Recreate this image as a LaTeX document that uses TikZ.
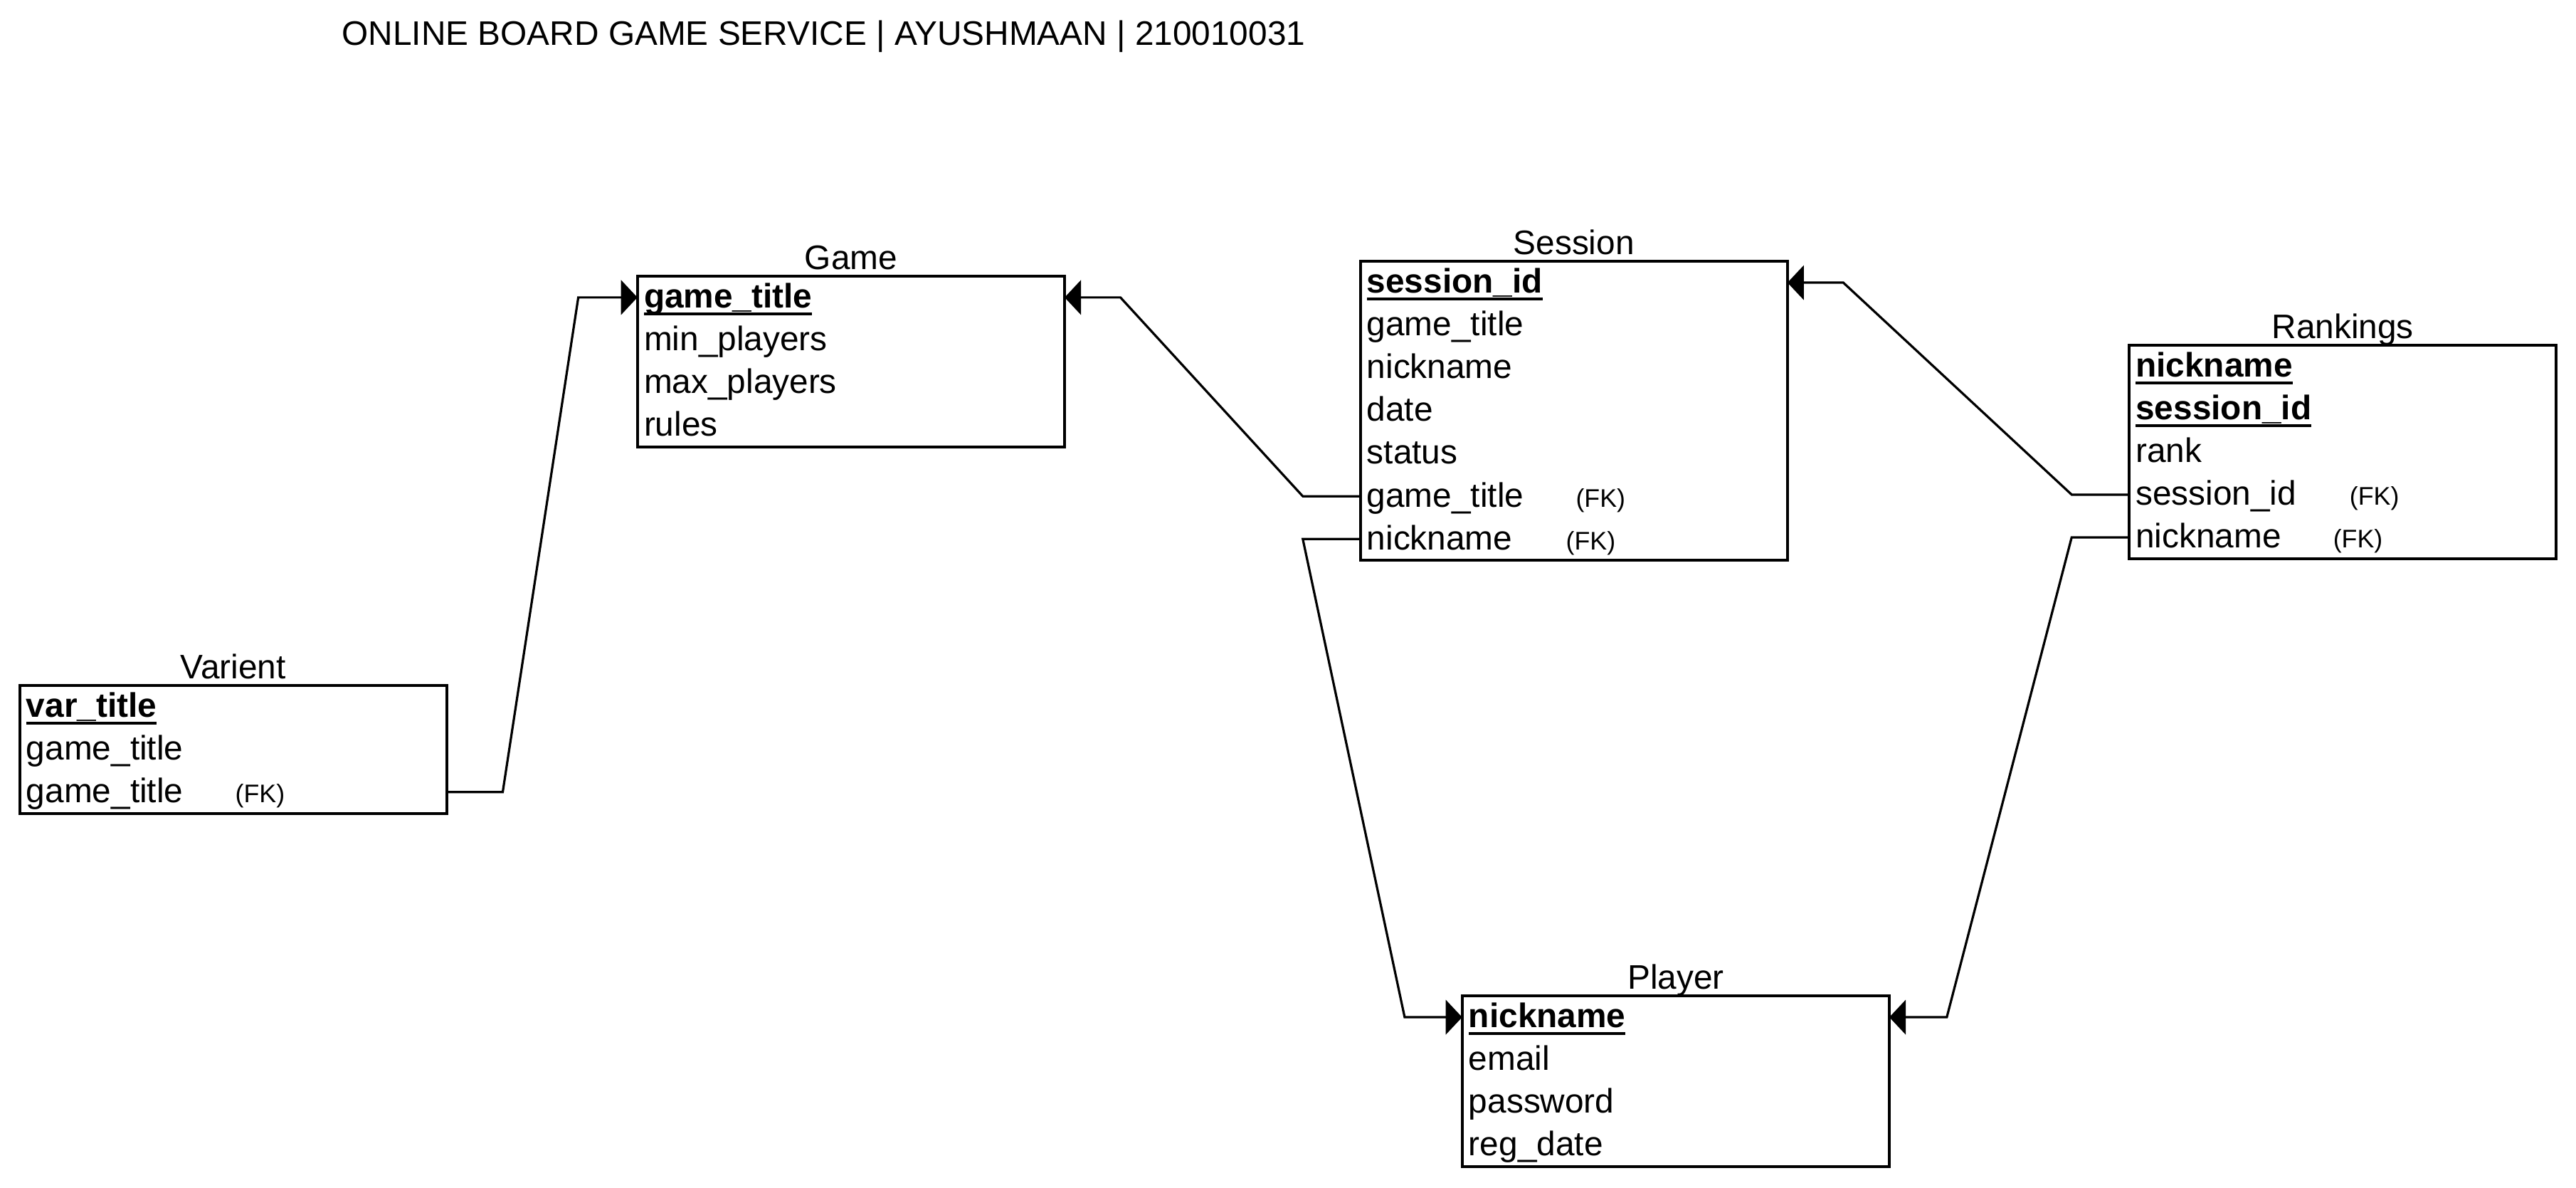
\documentclass[tikz,border=0pt]{standalone}
\usepackage{fontspec}
\setmainfont{Liberation Sans}
\usetikzlibrary{positioning,arrows.meta}

\newcommand{\fieldfont}{\fontsize{20.7pt}{24pt}\selectfont}
\newcommand{\fkfont}{\fontsize{15.5pt}{18pt}\selectfont}
\newcommand{\pkey}[1]{\setbox0\hbox{#1}\rlap{\rule[-4.4pt]{\wd0}{1.6pt}}\box0}

\tikzset{
	attr/.style={text width=252pt, inner xsep=4pt, inner ysep=0pt, outer sep=0pt,
		minimum height=26pt, text height=15pt, text depth=2.2pt, align=left, font=\fieldfont},
	pk/.style={attr, font=\fieldfont\bfseries},
	tabname/.style={anchor=base, inner sep=0pt, font=\fieldfont},
	fk/.style={anchor=base west, inner sep=0pt, font=\fkfont},
	tabbox/.style={line width=1.8pt},
	link/.style={line width=1.4pt, -{Triangle[length=10pt,width=21pt]}},
}

\begin{document}
\begin{tikzpicture}[x=1pt,y=1pt]
	\useasboundingbox (0,0) rectangle (1568,-722.5);

	\node[anchor=base west, inner sep=0pt, font=\fieldfont] (title) at (208,-27.4) {ONLINE BOARD GAME SERVICE | AYUSHMAAN | 210010031};

	% Game
	\node[pk, anchor=north west] (gkey) at (388,-168) {\pkey{game\_title}};
	\node[attr, below=0pt of gkey] (gmin) {min\_players};
	\node[attr, below=0pt of gmin] (gmax) {max\_players};
	\node[attr, below=0pt of gmax] (grules) {rules};
	\draw[tabbox] (gkey.north west) rectangle (grules.south east);
	\node[tabname] (gname) at ([yshift=4.2pt]gkey.north) {Game};

	% Session
	\node[pk, anchor=north west] (skey) at (828,-159) {\pkey{session\_id}};
	\node[attr, below=0pt of skey] (sgame) {game\_title};
	\node[attr, below=0pt of sgame] (snick) {nickname};
	\node[attr, below=0pt of snick] (sdate) {date};
	\node[attr, below=0pt of sdate] (sstat) {status};
	\node[attr, below=0pt of sstat] (sgtfk) {game\_title};
	\node[attr, below=0pt of sgtfk] (snkfk) {nickname};
	\draw[tabbox] (skey.north west) rectangle (snkfk.south east);
	\node[tabname] (sname) at ([yshift=4.2pt]skey.north) {Session};
	\node[fk] (sfk1) at ([xshift=131pt]sgtfk.base west) {(FK)};
	\node[fk] (sfk2) at ([xshift=125pt]snkfk.base west) {(FK)};

	% Rankings
	\node[pk, anchor=north west] (rnick) at (1296,-210) {\pkey{nickname}};
	\node[pk, below=0pt of rnick] (rsess) {\pkey{session\_id}};
	\node[attr, below=0pt of rsess] (rrank) {rank};
	\node[attr, below=0pt of rrank] (rsessfk) {session\_id};
	\node[attr, below=0pt of rsessfk] (rnickfk) {nickname};
	\draw[tabbox] (rnick.north west) rectangle (rnickfk.south east);
	\node[tabname] (rname) at ([yshift=4.2pt]rnick.north) {Rankings};
	\node[fk] (rfk1) at ([xshift=134pt]rsessfk.base west) {(FK)};
	\node[fk] (rfk2) at ([xshift=124pt]rnickfk.base west) {(FK)};

	% Varient
	\node[pk, anchor=north west] (vkey) at (12,-417) {\pkey{var\_title}};
	\node[attr, below=0pt of vkey] (vgame) {game\_title};
	\node[attr, below=0pt of vgame] (vgtfk) {game\_title};
	\draw[tabbox] (vkey.north west) rectangle (vgtfk.south east);
	\node[tabname] (vname) at ([yshift=4.2pt]vkey.north) {Varient};
	\node[fk] (vfk) at ([xshift=131pt]vgtfk.base west) {(FK)};

	% Player
	\node[pk, anchor=north west] (plnick) at (890,-606) {\pkey{nickname}};
	\node[attr, below=0pt of plnick] (plmail) {email};
	\node[attr, below=0pt of plmail] (plpass) {password};
	\node[attr, below=0pt of plpass] (pldate) {reg\_date};
	\draw[tabbox] (plnick.north west) rectangle (pldate.south east);
	\node[tabname] (plname) at ([yshift=4.2pt]plnick.north) {Player};

	% links
	\draw[link] (vgtfk.east) -- ++(34,0) -- ([xshift=-36pt]gkey.west) -- (gkey.west);
	\draw[link] (sgtfk.west) -- ++(-35,0) -- ([xshift=34pt]gkey.east) -- (gkey.east);
	\draw[link] (snkfk.west) -- ++(-35,0) -- ([xshift=-35pt]plnick.west) -- (plnick.west);
	\draw[link] (rsessfk.west) -- ++(-35,0) -- ([xshift=34pt]skey.east) -- (skey.east);
	\draw[link] (rnickfk.west) -- ++(-35,0) -- ([xshift=35pt]plnick.east) -- (plnick.east);
\end{tikzpicture}
\end{document}
